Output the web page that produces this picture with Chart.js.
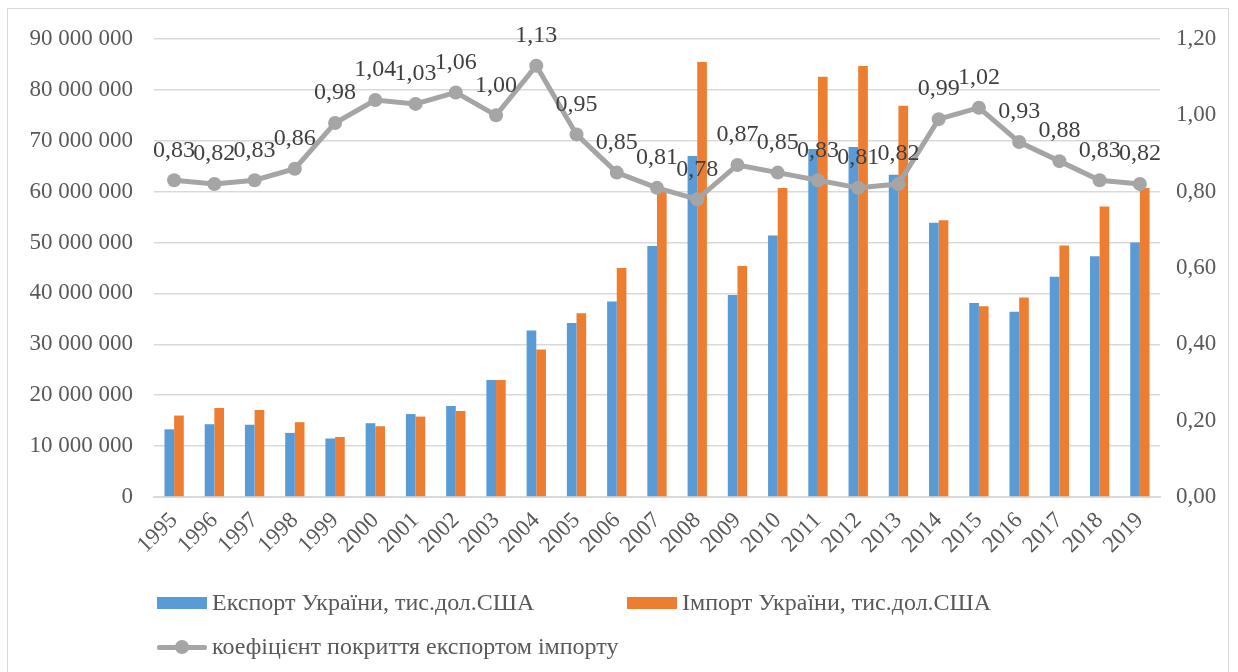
<!DOCTYPE html>
<html>
<head>
<meta charset="utf-8">
<script src="https://cdn.jsdelivr.net/npm/chart.js@4/dist/chart.umd.min.js"></script>
<style>
  html, body { margin: 0; padding: 0; background: #fff; }
  #wrap { position: relative; width: 1238px; height: 672px; overflow: hidden; }
  #frame { position: absolute; left: 7px; top: 8px; width: 1222px; height: 700px; border: 1px solid #d9d9d9; box-sizing: border-box; pointer-events: none; }
  canvas { position: absolute; left: 0; top: 0; }
  .leg { position: absolute; display: flex; align-items: center; font-family: "Liberation Serif", "Times New Roman", serif; font-size: 24px; color: #595959; white-space: nowrap; }
  .box { width: 50px; height: 12px; margin-right: 5px; }
  .lineMark { position: relative; width: 50px; height: 14px; margin-right: 5px; }
  .lineMark .ln { position: absolute; left: 0; top: 5px; width: 50px; height: 5px; background: #A5A5A5; border-radius: 2px; }
  .lineMark .pt { position: absolute; left: 18px; top: 0; width: 14px; height: 14px; border-radius: 50%; background: #A5A5A5; }
</style>
</head>
<body>
<div id="wrap">
  <canvas id="c" width="1238" height="672"></canvas>
  <div id="frame"></div>
  <div class="leg" style="left:157px; top:589px;"><div class="box" style="background:#5B9BD5"></div><span id="l0"></span></div>
  <div class="leg" style="left:627px; top:589px;"><div class="box" style="background:#ED7D31"></div><span id="l1"></span></div>
  <div class="leg" style="left:157px; top:633px;"><div class="lineMark"><div class="ln"></div><div class="pt"></div></div><span id="l2"></span></div>
</div>
<script>
const years = ['1995','1996','1997','1998','1999','2000','2001','2002','2003','2004','2005','2006','2007','2008','2009','2010','2011','2012','2013','2014','2015','2016','2017','2018','2019'];
const exportsUA = [13300000,14300000,14200000,12600000,11500000,14500000,16300000,17900000,23000000,32700000,34200000,38400000,49300000,67000000,39700000,51400000,68400000,68800000,63300000,53900000,38100000,36400000,43300000,47300000,50000000];
const importsUA = [16000000,17500000,17100000,14700000,11800000,13900000,15800000,16900000,23000000,29000000,36100000,45000000,60700000,85500000,45400000,60700000,82600000,84700000,76900000,54400000,37500000,39200000,49400000,57100000,60700000];
const coverage = [0.83,0.82,0.83,0.86,0.98,1.04,1.03,1.06,1.00,1.13,0.95,0.85,0.81,0.78,0.87,0.85,0.83,0.81,0.82,0.99,1.02,0.93,0.88,0.83,0.82];
const seriesNames = ['Експорт України, тис.дол.США', 'Імпорт України, тис.дол.США', 'коефіцієнт покриття експортом імпорту'];

document.getElementById('l0').textContent = seriesNames[0];
document.getElementById('l1').textContent = seriesNames[1];
document.getElementById('l2').textContent = seriesNames[2];

const FONT = "'Liberation Serif', 'Times New Roman', serif";

const labelPlugin = {
  id: 'lineLabels',
  afterDatasetsDraw(chart) {
    const ctx = chart.ctx;
    const meta = chart.getDatasetMeta(2);
    ctx.save();
    ctx.font = '24px ' + FONT;
    ctx.fillStyle = '#404040';
    ctx.textAlign = 'center';
    ctx.textBaseline = 'middle';
    meta.data.forEach((pt, i) => {
      ctx.fillText(coverage[i].toFixed(2).replace('.', ','), pt.x, pt.y - 30);
    });
    ctx.restore();
  }
};

new Chart(document.getElementById('c'), {
  data: {
    labels: years,
    datasets: [
      { type: 'bar', label: seriesNames[0], data: exportsUA, backgroundColor: '#5B9BD5', yAxisID: 'y', order: 2, categoryPercentage: 0.48, barPercentage: 1.0 },
      { type: 'bar', label: seriesNames[1], data: importsUA, backgroundColor: '#ED7D31', yAxisID: 'y', order: 2, categoryPercentage: 0.48, barPercentage: 1.0 },
      { type: 'line', label: seriesNames[2], data: coverage, yAxisID: 'y1', order: 0, borderColor: '#A5A5A5', backgroundColor: '#A5A5A5', borderWidth: 5, pointRadius: 7, pointBorderWidth: 0, pointBackgroundColor: '#A5A5A5', tension: 0 }
    ]
  },
  options: {
    responsive: false,
    animation: false,
    devicePixelRatio: 1,
    layout: { padding: { top: 39, left: 0, right: 0, bottom: 0 } },
    plugins: { legend: { display: false }, tooltip: { enabled: false } },
    scales: {
      x: {
        grid: { display: false },
        border: { display: true, color: '#d9d9d9', width: 2 },
        ticks: { color: '#595959', font: { family: FONT, size: 23 }, minRotation: 45, maxRotation: 45, padding: 2, autoSkip: false },
        afterFit(s) { s.height = 175; }
      },
      y: {
        position: 'left',
        min: 0, max: 90000000,
        grid: { color: '#d9d9d9', lineWidth: 1.5, drawTicks: false },
        border: { display: false },
        ticks: {
          stepSize: 10000000, padding: 21, color: '#595959', font: { family: FONT, size: 23 },
          callback: v => String(v).replace(/\B(?=(\d{3})+(?!\d))/g, ' ')
        },
        afterFit(s) { s.width = 154; }
      },
      y1: {
        position: 'right',
        min: 0, max: 1.2,
        grid: { display: false, drawTicks: false },
        border: { display: false },
        ticks: {
          stepSize: 0.2, padding: 16, color: '#595959', font: { family: FONT, size: 23 },
          callback: v => v.toFixed(2).replace('.', ',')
        },
        afterFit(s) { s.width = 78; }
      }
    }
  },
  plugins: [labelPlugin]
});
</script>
</body>
</html>
